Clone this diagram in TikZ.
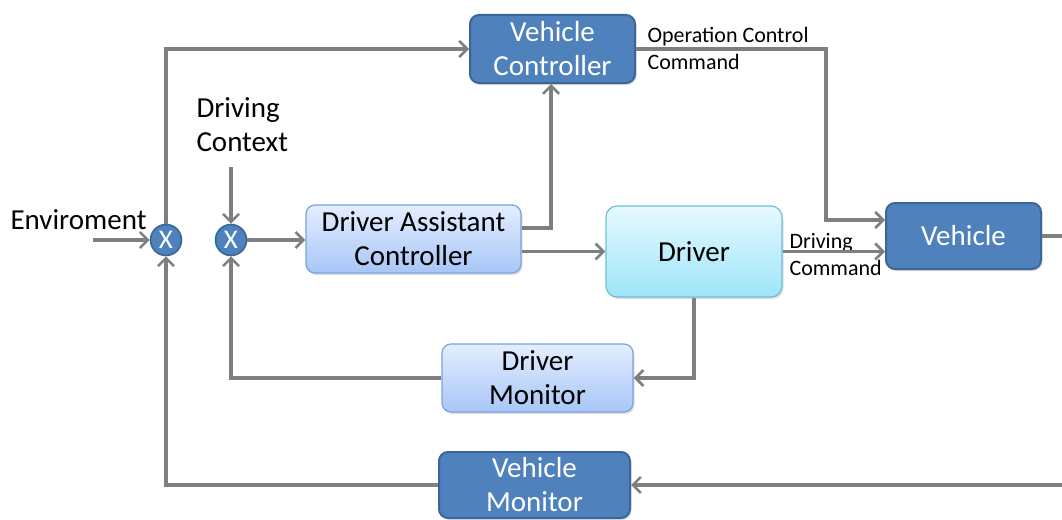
\documentclass[tikz,border=0pt]{standalone}
\usepackage{fontspec}
\setmainfont{Carlito}
\usetikzlibrary{arrows.meta,shadows,calc}
\definecolor{darkfill}{HTML}{4F81BD}
\definecolor{darkedge}{HTML}{3A6698}
\definecolor{lightedge}{HTML}{7AA2DC}
\definecolor{lighttop}{HTML}{E4EEFF}
\definecolor{lightbot}{HTML}{A7C6F7}
\definecolor{cyanedge}{HTML}{6CC0D8}
\definecolor{cyantop}{HTML}{E6F9FF}
\definecolor{cyanbot}{HTML}{9EE5F9}
\definecolor{wire}{HTML}{7F7F7F}
\tikzset{
  big/.style={font=\fontsize{29}{34}\selectfont},
  small/.style={font=\fontsize{22}{27}\selectfont},
  darkbox/.style={big, draw=darkedge, line width=2pt, fill=darkfill, text=white,
    rounded corners=9pt, align=center, inner sep=0pt,
    drop shadow={shadow xshift=1.5pt, shadow yshift=-2pt, opacity=0.25}},
  lightbox/.style={big, draw=lightedge, line width=1.2pt, top color=lighttop,
    bottom color=lightbot, text=black,
    rounded corners=9pt, align=center, inner sep=0pt,
    drop shadow={shadow xshift=1.5pt, shadow yshift=-2pt, opacity=0.25}},
  cyanbox/.style={big, draw=cyanedge, line width=1.2pt, top color=cyantop,
    bottom color=cyanbot, text=black,
    rounded corners=11pt, align=center, inner sep=0pt,
    drop shadow={shadow xshift=1.5pt, shadow yshift=-2pt, opacity=0.25}},
  junction/.style={circle, draw=darkedge, line width=1.6pt, fill=darkfill, text=white,
    minimum size=31pt, inner sep=0pt, font=\fontsize{27}{27}\selectfont},
  wireline/.style={draw=wire, line width=3.2pt},
  arr/.style={wireline, -{Straight Barb[length=8pt, width=16pt, line width=2.6pt]}},
}
\begin{document}
\begin{tikzpicture}[x=1pt, y=-1pt]
\useasboundingbox (0,0) rectangle (1062,519);

% blocks
\node[darkbox, minimum width=165pt, minimum height=68pt] (VC) at (552.5,49) {Vehicle\\Controller};
\node[lightbox, minimum width=215pt, minimum height=68pt] (DAC) at (413.5,239) {Driver Assistant\\Controller};
\node[cyanbox, minimum width=176pt, minimum height=91pt] (DRV) at (694,251.5) {Driver};
\node[darkbox, minimum width=155pt, minimum height=66pt] (VEH) at (963.5,236) {Vehicle};
\node[lightbox, minimum width=191pt, minimum height=68pt] (DM) at (537.5,378) {Driver\\Monitor};
\node[darkbox, minimum width=191pt, minimum height=66pt] (VM) at (534.5,485) {Vehicle\\Monitor};

% summing junctions
\node[junction] (J1) at (166,240) {X};
\node[junction] (J2) at (231,240) {X};

% free texts
\node[big, anchor=east] (envtxt) at (150,220) {Enviroment};
\node[big, align=left, anchor=west] (ctxtxt) at (193,125) {Driving\\Context};
\node[small, align=left, anchor=west] (occ) at (644,48) {Operation Control\\Command};
\node[small, align=left, anchor=west] (dc) at (786,255) {Driving\\Command};

% free ends
\coordinate (envin) at (93,240);
\coordinate (ctxin) at (231,167);
\coordinate (vehout) at (1062,236);
\coordinate (monin) at (1062,485);
\coordinate (occbend) at (826,49);

% connectors
\draw[arr] (envin) -- (J1.west);
\draw[arr] (J1.north) |- (VC.west);
\draw[arr] (VM.west) -| (J1.south);
\draw[arr] (monin) -- (VM.east);
\draw[wireline] (VEH.east) -- (vehout);
\draw[arr] (ctxin) -- (J2.north);
\draw[arr] (J2.east) -- (DAC.west |- J2.east);
\draw[arr] (DM.west) -| (J2.south);
\draw[arr] ([yshift=11pt]DAC.east) -| ([xshift=-1.5pt]VC.south);
\draw[arr] (DRV.west -| DAC.east) -- (DRV.west);
\draw[arr] (DRV.south) |- (DM.east);
\draw[arr] (VC.east) -- (occbend) |- ([yshift=16pt]VEH.west);
\draw[arr] (DRV.east) -- (VEH.west |- DRV.east);
\end{tikzpicture}
\end{document}
